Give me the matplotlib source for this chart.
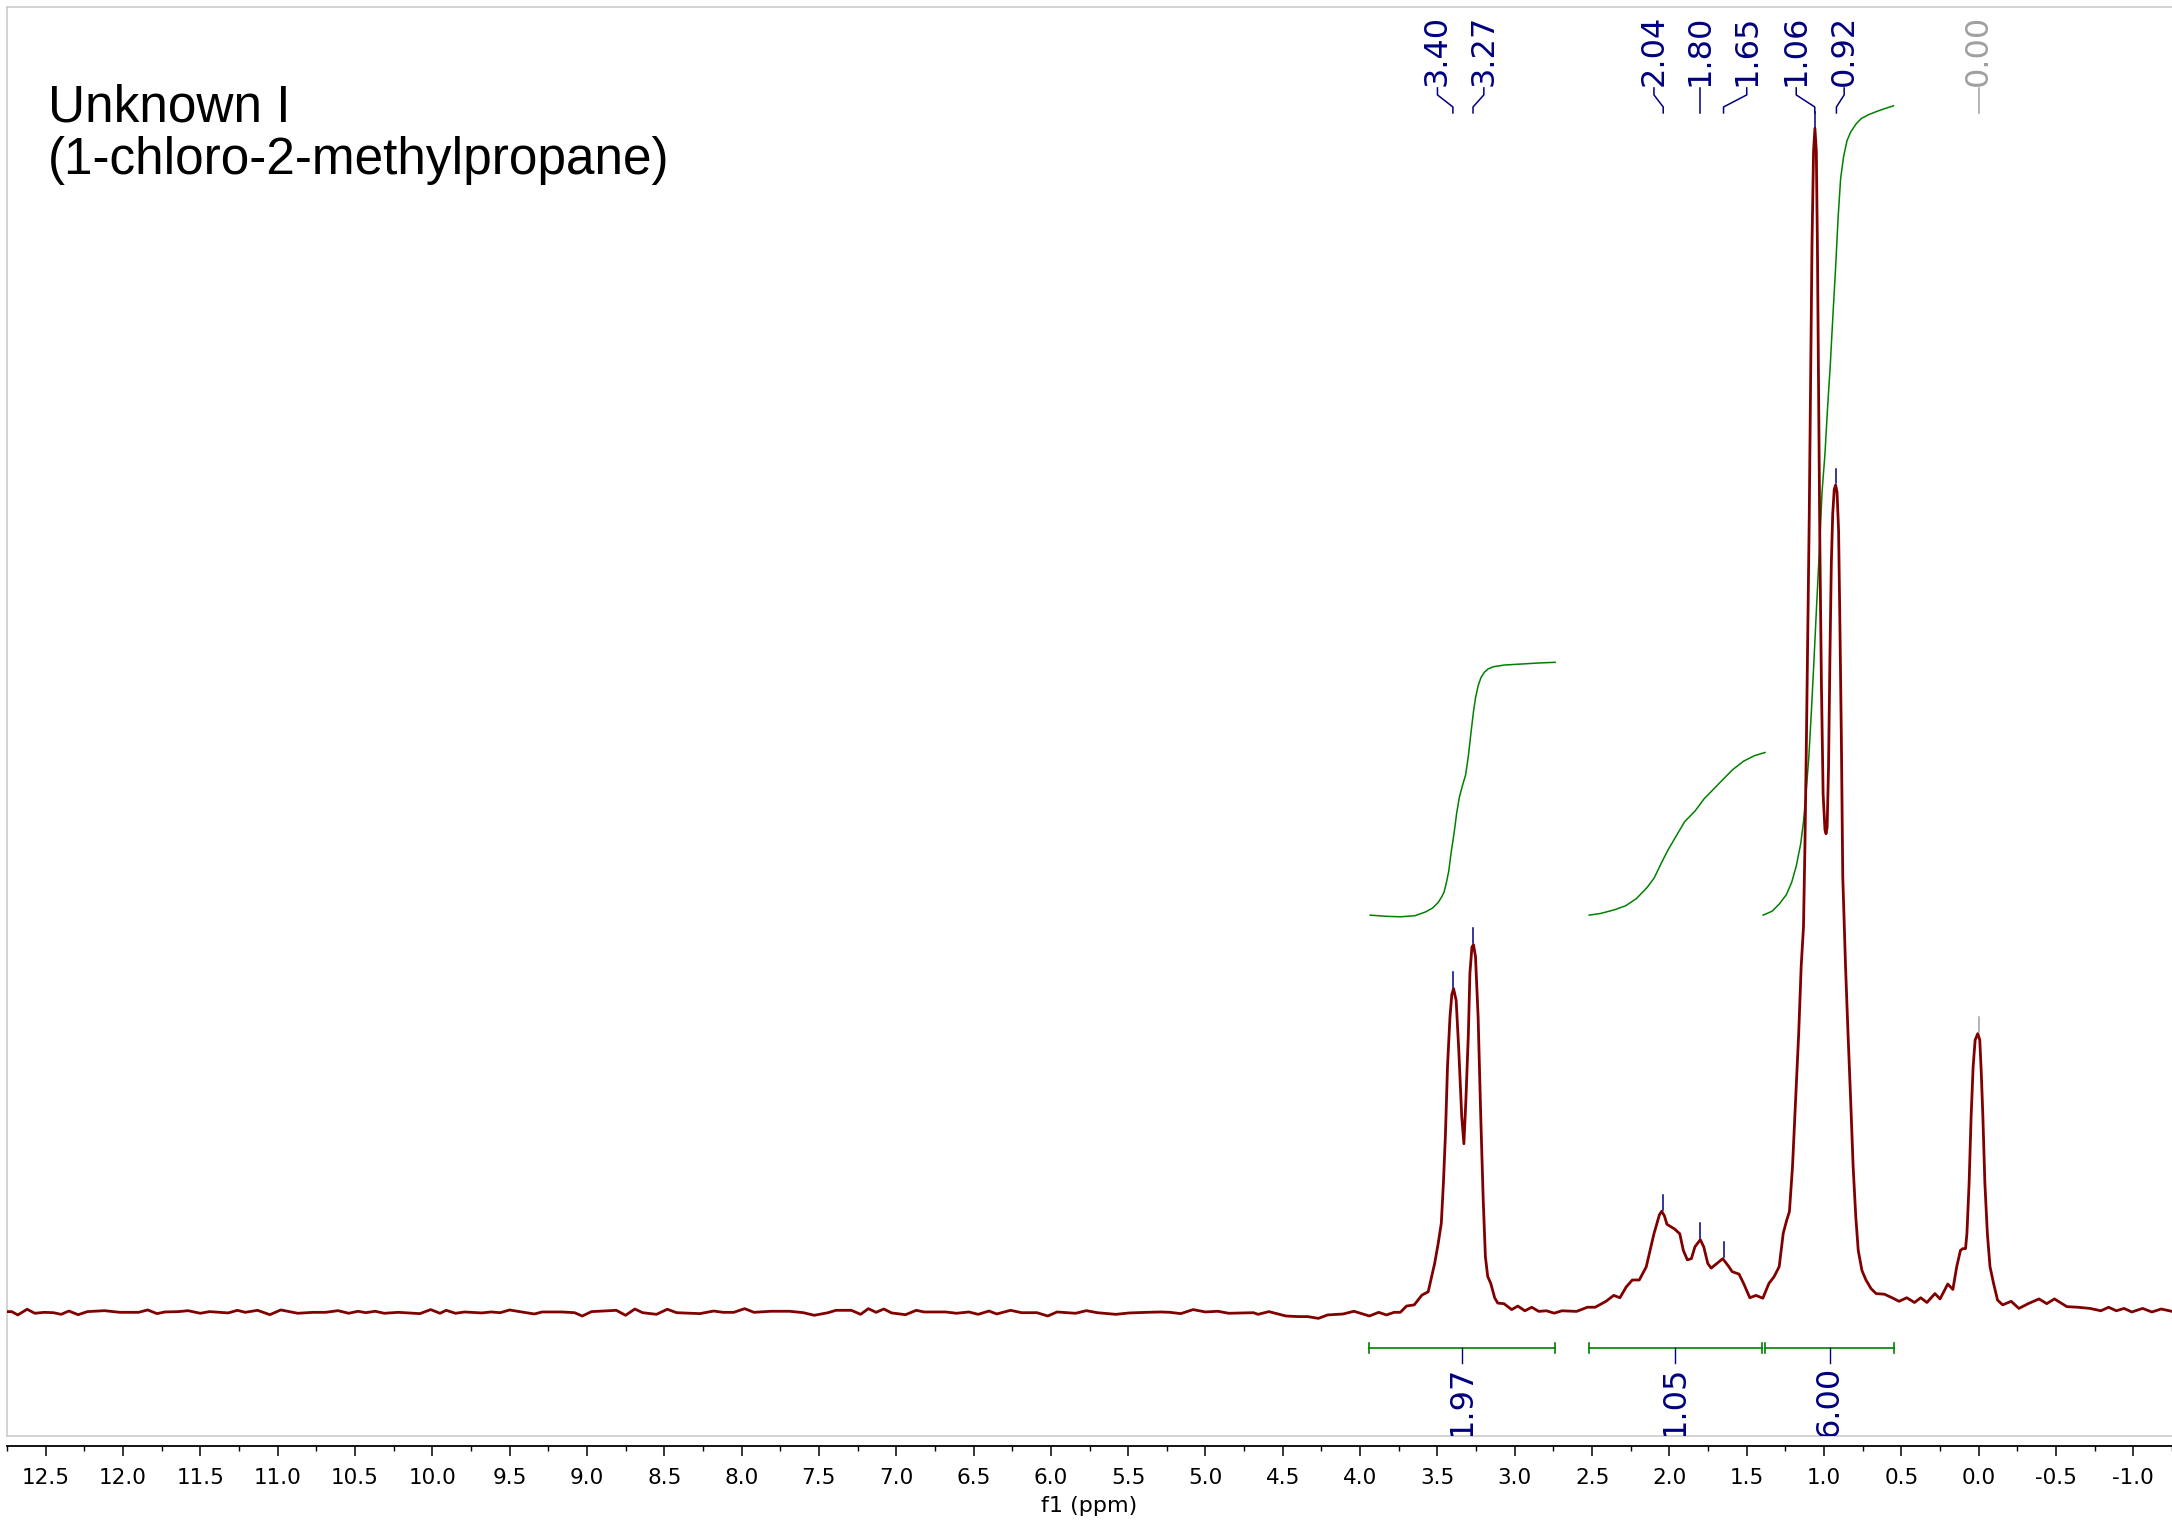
import matplotlib
matplotlib.use("Agg")
import matplotlib.pyplot as plt
from matplotlib.ticker import MultipleLocator

plt.rcParams["axes.unicode_minus"] = False

# ---- spectrum trace (ppm, intensity; tallest peak = 100) ----
ppm = [
    12.75, 12.72, 12.68, 12.62, 12.57, 12.51, 12.45, 12.40, 12.35, 12.29, 12.23, 12.12,
    12.02, 11.90, 11.84, 11.78, 11.73, 11.64, 11.58, 11.50, 11.44, 11.32, 11.26, 11.21,
    11.13, 11.05, 10.98, 10.87, 10.77, 10.69, 10.61, 10.54, 10.48, 10.43, 10.37, 10.31,
    10.22, 10.08, 10.01, 9.95, 9.91, 9.85, 9.79, 9.68, 9.62, 9.56, 9.50, 9.45, 9.34,
    9.29, 9.16, 9.08, 9.03, 8.97, 8.81, 8.75, 8.69, 8.64, 8.55, 8.48, 8.42, 8.33, 8.27,
    8.18, 8.12, 8.05, 7.98, 7.92, 7.81, 7.69, 7.60, 7.53, 7.44, 7.39, 7.29, 7.23, 7.18,
    7.13, 7.08, 7.03, 6.94, 6.87, 6.82, 6.68, 6.61, 6.53, 6.47, 6.40, 6.35, 6.26, 6.19,
    6.09, 6.02, 5.96, 5.84, 5.77, 5.70, 5.58, 5.49, 5.38, 5.29, 5.23, 5.16, 5.08, 5.00,
    4.92, 4.85, 4.69, 4.66, 4.59, 4.48, 4.40, 4.34, 4.27, 4.21, 4.11, 4.04, 3.94, 3.88,
    3.83, 3.78, 3.74, 3.70, 3.65, 3.60, 3.56, 3.518, 3.495, 3.475, 3.461, 3.448, 3.435,
    3.419, 3.407, 3.396, 3.379, 3.362, 3.343, 3.329, 3.316, 3.300, 3.290, 3.277, 3.267,
    3.254, 3.237, 3.220, 3.204, 3.190, 3.175, 3.155, 3.13, 3.11, 3.07, 3.02,
    2.98, 2.935, 2.89, 2.845, 2.795, 2.745, 2.695, 2.60, 2.53, 2.48, 2.41, 2.36, 2.32,
    2.28, 2.24, 2.195, 2.15, 2.10, 2.065, 2.05, 2.032, 2.016, 1.966, 1.933, 1.91, 1.884,
    1.858, 1.835, 1.80, 1.778, 1.752, 1.73, 1.693, 1.655, 1.62, 1.594, 1.55, 1.52, 1.48,
    1.44, 1.396, 1.356, 1.323, 1.290, 1.264, 1.241, 1.224, 1.204, 1.184, 1.164, 1.148,
    1.133, 1.124, 1.114, 1.105, 1.096, 1.087, 1.078, 1.068, 1.059, 1.050, 1.043, 1.036,
    1.027, 1.017, 1.006, 0.994, 0.987, 0.980, 0.971, 0.962, 0.953, 0.944, 0.934, 0.925,
    0.916, 0.906, 0.897, 0.888, 0.879, 0.861, 0.845, 0.828, 0.812, 0.795, 0.779, 0.755,
    0.729, 0.696, 0.663, 0.61, 0.56, 0.515, 0.465, 0.415, 0.375, 0.335, 0.283, 0.25,
    0.20, 0.167, 0.142, 0.118, 0.102, 0.085, 0.076, 0.062, 0.049, 0.036, 0.023, 0.006,
    -0.007, -0.017, -0.027, -0.040, -0.056, -0.073, -0.096, -0.122, -0.155, -0.21, -0.26,
    -0.32, -0.39, -0.44, -0.49, -0.57, -0.64, -0.72, -0.79, -0.84, -0.89, -0.94, -0.99,
    -1.06, -1.12, -1.18, -1.25,
]
intensity = [
    0.03, 0.03, -0.25, 0.23, -0.11, -0.03, -0.06, -0.20, 0.08, -0.23, 0.03, 0.11,
    -0.03, -0.03, 0.17, -0.14, 0.00, 0.03, 0.11, -0.11, 0.03, -0.08, 0.14, -0.03,
    0.14, -0.23, 0.17, -0.11, -0.03, -0.03, 0.11, -0.11, 0.06, -0.06, 0.06, -0.11,
    -0.03, -0.14, 0.20, -0.11, 0.14, -0.11, 0.00, -0.08, 0.00, -0.06, 0.17, 0.06, -0.17,
    0.00, 0.00, -0.06, -0.34, 0.03, 0.14, -0.28, 0.25, -0.06, -0.20, 0.23, -0.06, -0.11, -0.14,
    0.08, -0.03, -0.03, 0.28, -0.03, 0.06, 0.06, -0.06, -0.28, -0.06, 0.14, 0.14, -0.20, 0.28,
    -0.03, 0.25, -0.08, -0.23, 0.14, 0.00, 0.00, -0.11, 0.00, -0.20, 0.08, -0.17, 0.14, -0.06,
    -0.06, -0.34, 0.00, -0.11, 0.11, -0.06, -0.20, -0.08, -0.03, 0.00, -0.03, -0.14, 0.20, 0.00,
    0.06, -0.11, -0.06, -0.20, 0.03, -0.34, -0.39, -0.39, -0.54, -0.25, -0.17, 0.06, -0.34, -0.03,
    -0.25, -0.03, -0.03, 0.50, 0.60, 1.43, 1.70, 4.10, 5.80, 7.50, 11.0, 15.1, 20.7,
    24.9, 26.8, 27.3, 26.3, 22.1, 16.5, 14.2, 17.9, 23.5, 28.6, 30.8, 31.0,
    30.0, 24.9, 16.5, 9.45, 4.67, 3.00, 2.40, 1.20, 0.75, 0.70, 0.20,
    0.50, 0.10, 0.40, 0.05, 0.10, -0.10, 0.10, 0.05, 0.40, 0.40, 0.90, 1.40, 1.20,
    2.10, 2.70, 2.70, 3.80, 6.60, 8.19, 8.50, 8.10, 7.40, 7.00, 6.60, 5.20, 4.40,
    4.50, 5.50, 6.10, 5.50, 4.10, 3.70, 4.10, 4.50, 3.90, 3.40, 3.20, 2.40, 1.20,
    1.40, 1.16, 2.42, 2.98, 3.83, 6.64, 7.77, 8.47, 12.27, 17.9, 23.5, 29.15,
    32.5, 39.07, 48.34, 57.61, 66.89, 78.49, 90.09, 97.97, 99.92, 97.97, 90.09, 78.49,
    64.58, 52.98, 43.70, 40.69, 40.37, 40.92, 46.02, 55.30, 63.19, 67.36, 69.45, 69.80,
    69.21, 65.97, 57.61, 48.34, 36.75, 29.15, 23.5, 17.9, 12.3, 8.07, 5.2, 3.5,
    2.7, 1.97, 1.55, 1.5, 1.2, 0.9, 1.2, 0.8, 1.2, 0.8, 1.55, 1.1,
    2.36, 1.9, 3.83, 5.2, 5.35, 5.35, 6.64, 10.86, 16.5, 20.7, 22.96, 23.5,
    22.96, 20.1, 16.5, 10.86, 6.64, 3.83, 2.42, 1.0, 0.6, 0.9, 0.3,
    0.7, 1.1, 0.7, 1.1, 0.45, 0.4, 0.3, 0.1, 0.4, 0.1, 0.3, 0.0,
    0.3, 0.0, 0.25, 0.05,
]

# ---- picked peaks ----
peak_ppm = [3.40, 3.27, 2.04, 1.80, 1.65, 1.06, 0.92, 0.00]
peak_height = [27.3, 31.0, 8.5, 6.1, 4.5, 99.9, 69.8, 23.5]
peak_color = ["#000080"] * 7 + ["#a0a0a0"]
label_x = [3.50, 3.20, 2.10, 1.80, 1.50, 1.18, 0.87, 0.00]   # spread label slots

# ---- integrals ----
integral_from = [3.943, 2.523, 1.382]
integral_to = [2.738, 1.400, 0.547]
integral_value = [1.97, 1.05, 6.00]

int1_x = [3.935, 3.831, 3.739, 3.646, 3.577, 3.531, 3.496, 3.473, 3.457, 3.443, 3.427,
          3.411, 3.392, 3.376, 3.358, 3.339, 3.318, 3.300, 3.284, 3.267, 3.254, 3.237,
          3.219, 3.196, 3.173, 3.138, 3.069, 2.953, 2.838, 2.739]
int1_y = [33.50, 33.40, 33.36, 33.45, 33.77, 34.10, 34.56, 35.03, 35.45, 36.19, 37.21,
          38.83, 40.46, 42.08, 43.47, 44.40, 45.33, 46.95, 48.81, 50.67, 51.83, 52.85,
          53.54, 54.01, 54.28, 54.47, 54.61, 54.70, 54.79, 54.84]
int2_x = [2.519, 2.445, 2.353, 2.283, 2.214, 2.145, 2.098, 2.052, 2.006, 1.960, 1.902,
          1.833, 1.775, 1.729, 1.660, 1.590, 1.521, 1.452, 1.382]
int2_y = [33.50, 33.64, 33.96, 34.29, 34.89, 35.82, 36.65, 37.90, 39.07, 40.09, 41.38,
          42.31, 43.33, 43.94, 44.87, 45.79, 46.49, 46.95, 47.23]
int3_x = [1.394, 1.336, 1.290, 1.244, 1.209, 1.179, 1.151, 1.133, 1.117, 1.098, 1.082,
          1.064, 1.047, 1.029, 1.013, 0.994, 0.978, 0.960, 0.943, 0.925, 0.909, 0.893,
          0.874, 0.851, 0.828, 0.793, 0.759, 0.712, 0.666, 0.608, 0.551]
int3_y = [33.50, 33.83, 34.43, 35.22, 36.28, 37.68, 39.53, 41.38, 43.70, 46.95, 50.67,
          55.30, 59.94, 64.58, 69.21, 72.46, 76.17, 79.88, 84.05, 88.23, 92.40, 95.65,
          97.51, 98.90, 99.60, 100.29, 100.75, 101.07, 101.31, 101.58, 101.82]

tick_values = [12.5, 12.0, 11.5, 11.0, 10.5, 10.0, 9.5, 9.0, 8.5, 8.0, 7.5, 7.0, 6.5,
               6.0, 5.5, 5.0, 4.5, 4.0, 3.5, 3.0, 2.5, 2.0, 1.5, 1.0, 0.5, 0.0, -0.5, -1.0]
tick_labels = ["%.1f" % v for v in tick_values]

SPEC = "#800000"
GREEN = "#008000"
NAVY = "#000080"

W, H = 2172, 1522
fig = plt.figure(figsize=(W / 100, H / 100), dpi=100)

left = 7 / W
ax = fig.add_axes([left, 1 - 1436 / H, 1 - left, (1436 - 7) / H])
ax.set_xlim(12.75, -1.25)
ax.set_ylim(-10.47, 110.16)
ax.set_xticks([])
ax.set_yticks([])
for side in ("top", "left", "bottom"):
    ax.spines[side].set_color("#c8c8c8")
    ax.spines[side].set_linewidth(1.1)
ax.spines["right"].set_visible(False)

# integral curves (drawn under the spectrum)
for xs, ys in ((int1_x, int1_y), (int2_x, int2_y), (int3_x, int3_y)):
    ax.plot(xs, ys, color=GREEN, lw=1.1, zorder=2)

ax.plot(ppm, intensity, color=SPEC, lw=2.0, solid_joinstyle="round", zorder=3)

# peak labels with their bent connectors
for p, h, lx, col in zip(peak_ppm, peak_height, label_x, peak_color):
    ax.plot([lx, lx, p, p], [103.33, 102.74, 101.72, 101.22], color=col, lw=1.1, zorder=4)
    ax.plot([p, p], [h + 0.15, h + 1.4], color=col, lw=1.1, zorder=4)
    ax.text(lx, 103.5, "%.2f" % p, rotation=90, ha="center", va="bottom",
            fontsize=23, color=col)

# integral bars and values
bar_y = -3.04
for a, b, v in zip(integral_from, integral_to, integral_value):
    ax.plot([a, b], [bar_y, bar_y], color=GREEN, lw=1.2, zorder=4)
    for e in (a, b):
        ax.plot([e, e], [bar_y - 0.42, bar_y + 0.42], color=GREEN, lw=1.2, zorder=4)
    mid = (a + b) / 2
    ax.plot([mid, mid], [bar_y, bar_y - 1.26], color=NAVY, lw=1.0, zorder=4)
    ax.text(mid, -4.55, "%.2f" % v, rotation=90, ha="center", va="top",
            fontsize=23, color=NAVY, clip_on=True)

# separate ppm axis below the frame
axx = fig.add_axes([left, 1 - 1446 / H, 1 - left, 1e-4])
axx.set_xlim(12.75, -1.25)
axx.set_yticks([])
axx.patch.set_visible(False)
for side in ("top", "left", "right"):
    axx.spines[side].set_visible(False)
axx.spines["bottom"].set_linewidth(1.3)
axx.set_xticks(tick_values)
axx.set_xticklabels(tick_labels, fontsize=15.5)
axx.xaxis.set_minor_locator(MultipleLocator(0.25))
axx.tick_params(which="major", direction="out", length=7.2, width=1.1, pad=9)
axx.tick_params(which="minor", direction="out", length=3.6, width=1.0)

fig.text((left + 1) / 2, 1 - 1506 / H, "f1 (ppm)", ha="center", va="center", fontsize=16)

fig.text(48 / W, 1 - 122 / H, "Unknown I", fontsize=37, family="Liberation Sans",
         va="baseline")
fig.text(48 / W, 1 - 174 / H, "(1-chloro-2-methylpropane)", fontsize=37,
         family="Liberation Sans", va="baseline")

fig.savefig("out.png", dpi=100)
